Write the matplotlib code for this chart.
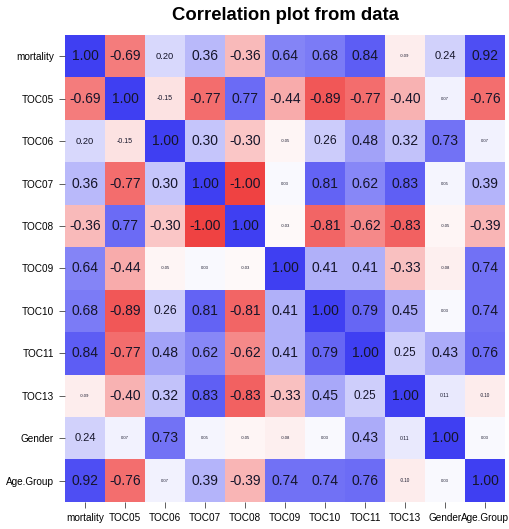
import matplotlib.pyplot as plt
import numpy as np
from matplotlib.colors import LinearSegmentedColormap

plt.rcParams['font.family'] = ['Liberation Sans', 'DejaVu Sans']

variables = ['mortality', 'TOC05', 'TOC06', 'TOC07', 'TOC08', 'TOC09',
             'TOC10', 'TOC11', 'TOC13', 'Gender', 'Age.Group']

# upper triangle of the correlation matrix, row by row
upper = [
    [1.00, -0.69, 0.20, 0.36, -0.36, 0.64, 0.68, 0.84, -0.09, 0.24, 0.92],
    [1.00, -0.15, -0.77, 0.77, -0.44, -0.89, -0.77, -0.40, 0.07, -0.76],
    [1.00, 0.30, -0.30, -0.05, 0.26, 0.48, 0.32, 0.73, 0.07],
    [1.00, -1.00, 0.03, 0.81, 0.62, 0.83, 0.05, 0.39],
    [1.00, -0.03, -0.81, -0.62, -0.83, -0.05, -0.39],
    [1.00, 0.41, 0.41, -0.33, -0.08, 0.74],
    [1.00, 0.79, 0.45, 0.03, 0.74],
    [1.00, 0.25, 0.43, 0.76],
    [1.00, 0.11, -0.10],
    [1.00, 0.03],
    [1.00],
]

n = len(variables)
corr = np.zeros((n, n))
for i, row in enumerate(upper):
    corr[i, i:] = row
    corr[i:, i] = row

cmap = LinearSegmentedColormap.from_list(
    'rwb', [(0.94, 0.26, 0.26), (1, 1, 1), (0.25, 0.25, 0.95)])

fig = plt.figure(figsize=(5.10, 5.29), dpi=100)
ax = fig.add_axes([65 / 510, 1 - 502 / 529, 440 / 510, 467 / 529])
ax.imshow(corr, cmap=cmap, vmin=-1, vmax=1, aspect='auto',
          interpolation='nearest')

# label size shrinks for weak correlations
for i in range(n):
    for j in range(n):
        v = corr[i, j]
        size = max(3.0, 10 * min(1.0, abs(v) / 0.3))
        ax.text(j, i, f'{v:.2f}', ha='center', va='center',
                fontsize=size, color='#15152a')

ax.set_xticks(range(n))
ax.set_xticklabels(variables, fontsize=7.2)
ax.set_yticks(range(n))
ax.set_yticklabels(variables, fontsize=7.2)
ax.tick_params(length=4, width=0.6, color='#444444', pad=4)
for s in ax.spines.values():
    s.set_visible(False)

fig.text(0.56, 1 - 16 / 529, 'Correlation plot from data', ha='center',
         va='center', fontsize=13.3, fontweight='bold')

fig.savefig('out.png', dpi=100)
